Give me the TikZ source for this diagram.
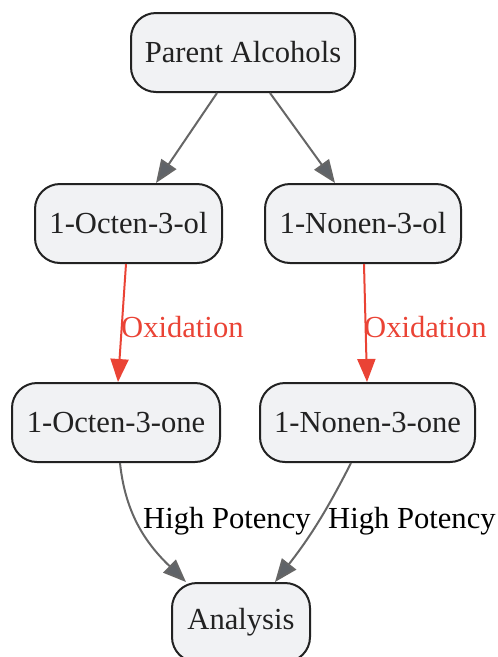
\documentclass[tikz,border=0pt]{standalone}
\usepackage{fontspec}
\setmainfont{Liberation Serif}
\usetikzlibrary{arrows.meta}
\definecolor{nodefill}{HTML}{F1F2F4}
\definecolor{nodeline}{HTML}{222222}
\definecolor{edgegray}{HTML}{666666}
\definecolor{headgray}{HTML}{5F6368}
\definecolor{oxred}{HTML}{EA4335}
\tikzset{
  box/.style={draw=nodeline, fill=nodefill, line width=2pt, rounded corners=25pt,
    text=nodeline, font=\fontsize{30.6}{36}\selectfont, inner sep=0pt,
    minimum height=79pt},
  garrow/.style={draw=edgegray, line width=2pt, -{Triangle[length=23pt,width=18pt,fill=headgray]}},
  rarrow/.style={draw=oxred, line width=2pt, -{Triangle[length=23pt,width=18pt,fill=oxred]}},
  oxlabel/.style={text=oxred, font=\fontsize{30.6}{36}\selectfont, inner sep=0pt, anchor=west},
  hplabel/.style={text=black, font=\fontsize{30.6}{36}\selectfont, inner sep=0pt, anchor=west},
}
\begin{document}
\begin{tikzpicture}[x=1pt,y=-1pt]
\useasboundingbox (0,0) rectangle (498,657);
\node[box, minimum width=224pt] (p) at (243,52.5) {Parent Alcohols};
\node[box, minimum width=187pt] (oo) at (128.5,223.5) {1-Octen-3-ol};
\node[box, minimum width=196pt] (no) at (363,223.5) {1-Nonen-3-ol};
\node[box, minimum width=208pt] (ooe) at (116,422.5) {1-Octen-3-one};
\node[box, minimum width=215pt] (noe) at (367.5,422.5) {1-Nonen-3-one};
\node[box, minimum width=138pt] (an) at (241,622.5) {Analysis};

\draw[garrow] ([xshift=-26pt]p.south) -- ([xshift=27.5pt]oo.north);
\draw[garrow] ([xshift=27pt]p.south) -- ([xshift=-28pt]no.north);

\draw[rarrow] ([xshift=-2.5pt]oo.south) -- ([xshift=2pt]ooe.north);
\draw[rarrow] ([xshift=1pt]no.south) -- ([xshift=-0.5pt]noe.north);
\node[oxlabel] (ox1) at (121,327.5) {Oxidation};
\node[oxlabel] (ox2) at (364,327.5) {Oxidation};

\draw[garrow] ([xshift=4pt]ooe.south) to[out=-84,in=136] ([xshift=-55pt]an.north);
\draw[garrow] ([xshift=-16.5pt]noe.south) to[out=-117,in=52] ([xshift=34pt]an.north);
\node[hplabel] (hp1) at (143,521.5) {High Potency};
\node[hplabel] (hp2) at (328,521.5) {High Potency};
\end{tikzpicture}
\end{document}
